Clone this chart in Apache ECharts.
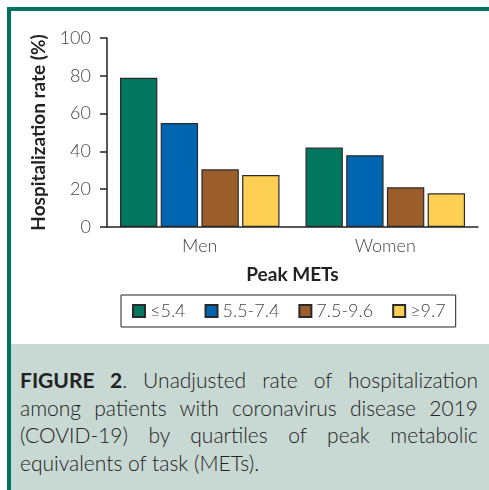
<!DOCTYPE html>
<html>
<head>
<meta charset="utf-8">
<script src="https://cdn.jsdelivr.net/npm/echarts@6/dist/echarts.min.js"></script>
<style>
  body { margin: 0; background: #fff; }
  #wrap { position: relative; width: 489px; height: 490px; overflow: hidden; }
  #chart { position: absolute; left: 0; top: 0; width: 489px; height: 490px; }
  #caption {
    position: absolute; left: 11px; top: 344px; width: 478px; height: 146px;
    background: #c8d8d3; box-sizing: border-box; padding: 22px 11px 0 9px;
    font-family: Lato, "Open Sans", sans-serif; font-size: 21px; line-height: 27.5px;
    color: #222; font-weight: 300;
  }
  #caption div { text-align: justify; text-align-last: justify; white-space: nowrap; }
  #caption div.last { text-align-last: left; }
  #caption b { font-weight: 700; }
</style>
</head>
<body>
<div id="wrap">
  <div id="chart"></div>
  <div id="caption">
    <div><b>FIGURE 2</b>. Unadjusted rate of hospitalization</div>
    <div>among patients with coronavirus disease 2019</div>
    <div>(COVID-19) by quartiles of peak metabolic</div>
    <div class="last">equivalents of task (METs).</div>
  </div>
</div>
<script>
const categories = ['Men', 'Women']
const groupNames = ['≤5.4', '5.5-7.4', '7.5-9.6', '≥9.7']
const groupColors = ['#00775e', '#0066b2', '#9b5e2b', '#fdcf52']
const le54 = [79, 42]
const m55to74 = [55, 38]
const m75to96 = [30.5, 21]
const ge97 = [27.5, 17.8]
const yTicks = [0, 20, 40, 60, 80, 100]

const seriesValues = [le54, m55to74, m75to96, ge97]
const font = 'Lato, "Open Sans", sans-serif'

const chart = echarts.init(document.getElementById('chart'))
chart.setOption({
  animation: false,
  textStyle: { fontFamily: font },
  graphic: [
    { type: 'rect', shape: { x: 7, y: 7, width: 482, height: 4 }, style: { fill: '#00735e' } },
    { type: 'rect', shape: { x: 7, y: 7, width: 4, height: 483 }, style: { fill: '#00735e' } }
  ],
  grid: { left: 107, right: 11, top: 38, bottom: 263 },
  legend: {
    left: 121,
    top: 295,
    padding: [7, 10, 7, 11],
    borderColor: '#222',
    borderWidth: 1,
    itemWidth: 12,
    itemHeight: 12,
    itemGap: 19,
    icon: 'rect',
    data: groupNames,
    textStyle: { fontSize: 18, color: '#444', fontFamily: font, fontWeight: 300 }
  },
  xAxis: {
    type: 'category',
    data: categories,
    name: 'Peak METs',
    nameLocation: 'middle',
    nameGap: 38,
    nameTextStyle: { fontSize: 19, fontWeight: 'bold', color: '#222', fontFamily: font },
    axisLine: { lineStyle: { color: '#222', width: 1.5 } },
    axisTick: { show: false },
    axisLabel: { fontSize: 18, color: '#444', margin: 10, fontFamily: font, fontWeight: 300 }
  },
  yAxis: {
    type: 'value',
    min: yTicks[0],
    max: yTicks[yTicks.length - 1],
    interval: 20,
    name: 'Hospitalization rate (%)',
    nameLocation: 'middle',
    nameGap: 59,
    nameTextStyle: { fontSize: 19, fontWeight: 'bold', color: '#222', fontFamily: font },
    axisLine: { show: true, lineStyle: { color: '#222', width: 1.5 } },
    axisTick: { show: true, length: 7, lineStyle: { color: '#222', width: 1.5 } },
    splitLine: { show: false },
    axisLabel: { fontSize: 18, color: '#444', margin: 16, fontFamily: font, fontWeight: 300 }
  },
  series: groupNames.map((name, i) => ({
    name: name,
    type: 'bar',
    data: seriesValues[i],
    barGap: '9%',
    barCategoryGap: '14%',
    itemStyle: { color: groupColors[i], borderColor: '#2a2a2a', borderWidth: 1.2 }
  }))
})
</script>
</body>
</html>
